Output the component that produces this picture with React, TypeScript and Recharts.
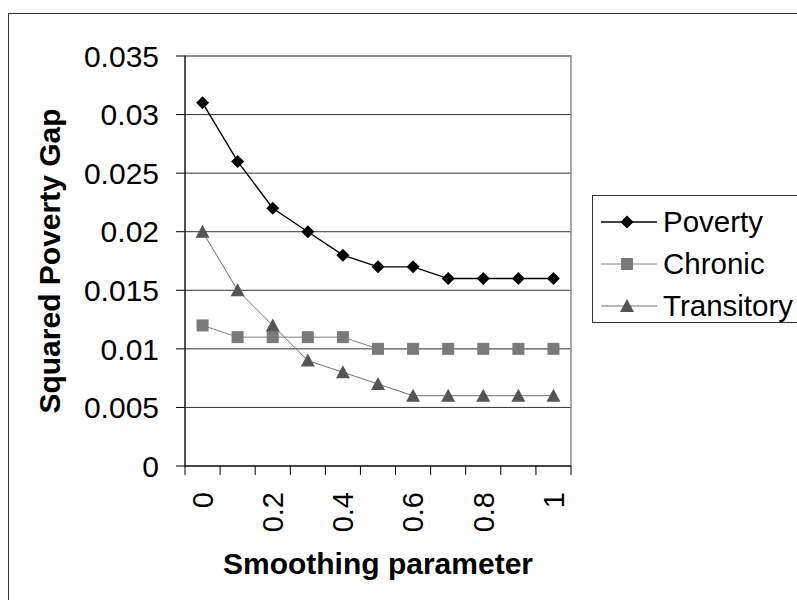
import { LineChart, Line, XAxis, YAxis, CartesianGrid, Legend, ReferenceArea } from "recharts";

const smoothing = [0, 0.1, 0.2, 0.3, 0.4, 0.5, 0.6, 0.7, 0.8, 0.9, 1];
const poverty = [0.031, 0.026, 0.022, 0.02, 0.018, 0.017, 0.017, 0.016, 0.016, 0.016, 0.016];
const chronic = [0.012, 0.011, 0.011, 0.011, 0.011, 0.01, 0.01, 0.01, 0.01, 0.01, 0.01];
const transitory = [0.02, 0.015, 0.012, 0.009, 0.008, 0.007, 0.006, 0.006, 0.006, 0.006, 0.006];
const yTicks = [0, 0.005, 0.01, 0.015, 0.02, 0.025, 0.03, 0.035];
const xLabelTicks = [0, 0.2, 0.4, 0.6, 0.8, 1];
const seriesNames = ["Poverty", "Chronic", "Transitory"];

const data = smoothing.map((s, i) => ({
  s,
  poverty: poverty[i],
  chronic: chronic[i],
  transitory: transitory[i],
}));

// excel-style category bands: tick marks sit between the points
const half = (smoothing[1] - smoothing[0]) / 2;
const boundaries = [...smoothing.map((s) => s - half), smoothing[smoothing.length - 1] + half];
const xDomain = [boundaries[0], boundaries[boundaries.length - 1]];
const xTicks = [...boundaries, ...xLabelTicks].sort((a, b) => a - b);
const labelSet = new Set(xLabelTicks);

const FONT = "'Liberation Sans', Arial, Helvetica, sans-serif";
const TICK_SIZE = 9;
const TICK_MARGIN = 17;

const styles = {
  Poverty: { stroke: "#000", width: 1.4, fill: "#000", shape: "diamond" },
  Chronic: { stroke: "#808080", width: 1, fill: "#7a7a7a", shape: "square" },
  Transitory: { stroke: "#707070", width: 1, fill: "#555", shape: "triangle" },
};

function Marker({ shape, cx, cy, fill }) {
  if (shape === "diamond") {
    return <polygon points={`${cx},${cy - 6.5} ${cx + 6.5},${cy} ${cx},${cy + 6.5} ${cx - 6.5},${cy}`} fill={fill} />;
  }
  if (shape === "square") {
    return <rect x={cx - 6} y={cy - 6} width={12} height={12} fill={fill} />;
  }
  return <polygon points={`${cx},${cy - 7} ${cx + 7},${cy + 6} ${cx - 7},${cy + 6}`} fill={fill} />;
}

const makeDot = (name) => (props) => {
  const { cx, cy, index } = props;
  const st = styles[name];
  return <Marker key={`${name}-${index}`} shape={st.shape} cx={cx} cy={cy} fill={st.fill} />;
};

function XTick({ x, y, payload }) {
  const v = payload.value;
  if (labelSet.has(v)) {
    return (
      <text
        x={x}
        y={y}
        dy="0.355em"
        transform={`rotate(-90 ${x} ${y})`}
        textAnchor="end"
        fontSize={29}
        fontFamily={FONT}
        fill="#000"
      >
        {String(v)}
      </text>
    );
  }
  return <line x1={x} x2={x} y1={y - TICK_MARGIN - TICK_SIZE} y2={y - TICK_MARGIN} stroke="#000" />;
}

function YTitle({ viewBox }) {
  const cx = viewBox.x + 60;
  const cy = viewBox.y + viewBox.height / 2;
  return (
    <text
      x={cx}
      y={cy}
      transform={`rotate(-90 ${cx} ${cy})`}
      textAnchor="middle"
      fontSize={30}
      fontWeight="bold"
      fontFamily={FONT}
      fill="#000"
    >
      Squared Poverty Gap
    </text>
  );
}

function XTitle({ viewBox }) {
  return (
    <text
      x={viewBox.x + viewBox.width / 2}
      y={viewBox.y + 108}
      textAnchor="middle"
      fontSize={30}
      fontWeight="bold"
      fontFamily={FONT}
      fill="#000"
    >
      Smoothing parameter
    </text>
  );
}

function LegendBox() {
  return (
    <div
      style={{
        border: "1px solid #333",
        background: "#fff",
        height: 128,
        boxSizing: "border-box",
        paddingTop: 5,
        fontFamily: FONT,
        fontSize: 29.5,
        color: "#000",
      }}
    >
      {seriesNames.map((name) => {
        const st = styles[name];
        return (
          <div key={name} style={{ display: "flex", alignItems: "center", height: 42 }}>
            <svg width={56} height={20} style={{ marginLeft: 8, marginRight: 6, flex: "none" }}>
              <line x1={0} x2={56} y1={10} y2={10} stroke={st.stroke} strokeWidth={st.width} />
              <Marker shape={st.shape} cx={26} cy={10} fill={st.fill} />
            </svg>
            <span style={{ whiteSpace: "nowrap", lineHeight: "42px" }}>{name}</span>
          </div>
        );
      })}
    </div>
  );
}

export default function App() {
  return (
    <div
      style={{
        position: "absolute",
        left: 0,
        top: 0,
        width: 797,
        height: 600,
        overflow: "hidden",
        background: "#fff",
      }}
    >
      <div
        style={{
          position: "absolute",
          left: 8,
          top: 13,
          width: 900,
          height: 700,
          border: "1px solid #333",
        }}
      />
      <LineChart
        width={797}
        height={600}
        data={data}
        margin={{ top: 56, right: 226, left: 0, bottom: 0 }}
        style={{ fontFamily: FONT }}
      >
        <CartesianGrid horizontal vertical={false} stroke="#333" horizontalValues={yTicks} />
        <ReferenceArea x1={xDomain[0]} x2={xDomain[1]} y1={0} y2={0.035} fill="none" stroke="#888" strokeWidth={1.5} />
        <XAxis
          dataKey="s"
          type="number"
          domain={xDomain}
          ticks={xTicks}
          interval={0}
          height={134}
          axisLine={{ stroke: "#000" }}
          tickLine={false}
          tickSize={TICK_SIZE}
          tickMargin={TICK_MARGIN}
          tick={<XTick />}
          label={<XTitle />}
        />
        <YAxis
          type="number"
          domain={[0, 0.035]}
          ticks={yTicks}
          interval={0}
          width={185}
          axisLine={{ stroke: "#000" }}
          tickLine={{ stroke: "#000" }}
          tickSize={TICK_SIZE}
          tickMargin={TICK_MARGIN}
          tick={{ fill: "#000", fontSize: 30, fontFamily: FONT }}
          tickFormatter={(v) => String(v)}
          label={<YTitle />}
        />
        <Legend
          layout="horizontal"
          verticalAlign="middle"
          align="center"
          wrapperStyle={{ left: 592, top: 195, width: 240 }}
          content={<LegendBox />}
        />
        <Line
          type="linear"
          dataKey="poverty"
          name="Poverty"
          stroke={styles.Poverty.stroke}
          strokeWidth={styles.Poverty.width}
          dot={makeDot("Poverty")}
          activeDot={false}
          isAnimationActive={false}
        />
        <Line
          type="linear"
          dataKey="chronic"
          name="Chronic"
          stroke={styles.Chronic.stroke}
          strokeWidth={styles.Chronic.width}
          dot={makeDot("Chronic")}
          activeDot={false}
          isAnimationActive={false}
        />
        <Line
          type="linear"
          dataKey="transitory"
          name="Transitory"
          stroke={styles.Transitory.stroke}
          strokeWidth={styles.Transitory.width}
          dot={makeDot("Transitory")}
          activeDot={false}
          isAnimationActive={false}
        />
      </LineChart>
    </div>
  );
}
